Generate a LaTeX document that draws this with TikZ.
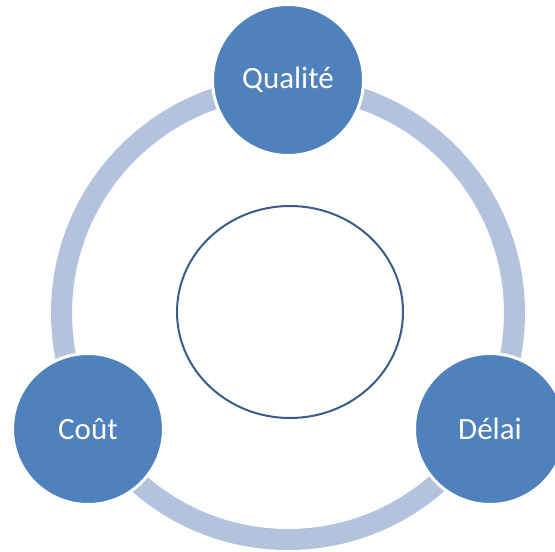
\documentclass[tikz,border=0pt]{standalone}
\usepackage{fontspec}
\setmainfont{Carlito}
\usetikzlibrary{positioning, shapes.geometric}
\definecolor{accent}{RGB}{79,129,189}
\definecolor{accentlight}{RGB}{179,194,221}
\definecolor{accentdark}{RGB}{56,93,138}
\tikzset{
  triangle/.style={
	x=1pt, y=-1pt, % pixel coordinates, y down
	every node/.style={inner sep=0pt, outer sep=0pt},
	cycle ring/.style={circle, draw=accentlight, line width=21pt}, % the big ring
	pole/.style={circle, fill=accent, draw=white, line width=3pt, minimum size=151pt, text=white, font=\fontsize{31}{36}\selectfont}, % the three poles
	core/.style={ellipse, draw=accentdark, line width=2pt, minimum width=226pt, minimum height=212pt}, % the empty centre
  }
}
\begin{document}
\begin{tikzpicture}[triangle]
\useasboundingbox (0,0) rectangle (555,552);
\node[cycle ring, minimum size=453pt] (ring) at (288,313) {};
\node[core] (centre) at (290,312) {};
\node[pole] (qualite) at (288,80) {Qualité};
\node[pole] (cout) at (88,429) {Coût};
\node[pole] (delai) at (490,429) {Délai};
\end{tikzpicture}
\end{document}
